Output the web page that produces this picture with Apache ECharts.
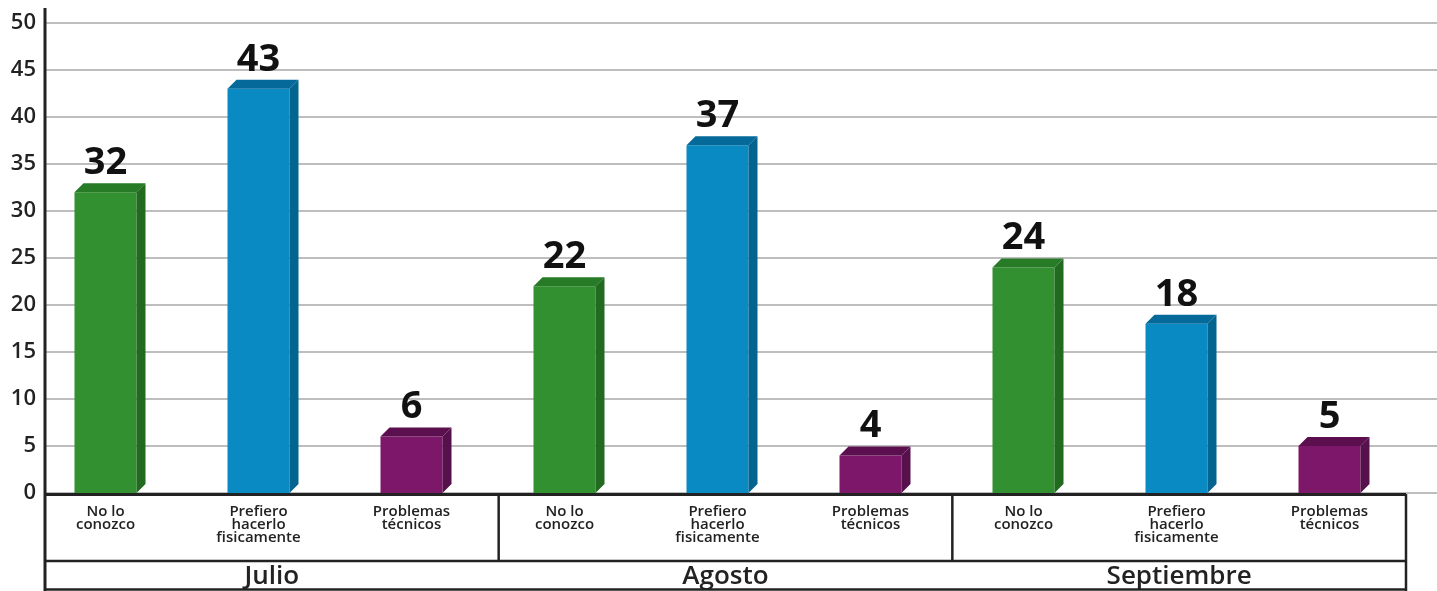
<!DOCTYPE html>
<html><head><meta charset="utf-8">
<script src="https://cdn.jsdelivr.net/npm/echarts@6/dist/echarts.min.js"></script>
<style>html,body{margin:0;padding:0;background:#fff}#c{width:1437px;height:591px}</style>
</head><body><div id="c"></div>
<script>
const groups = ['Julio', 'Agosto', 'Septiembre'];
const reasons = ['No lo\nconozco', 'Prefiero\nhacerlo\nfisicamente', 'Problemas\ntécnicos'];
const categories = [
  'No lo\nconozco', 'Prefiero\nhacerlo\nfisicamente', 'Problemas\ntécnicos',
  'No lo\nconozco', 'Prefiero\nhacerlo\nfisicamente', 'Problemas\ntécnicos',
  'No lo\nconozco', 'Prefiero\nhacerlo\nfisicamente', 'Problemas\ntécnicos'
];
const values = [32, 43, 6, 22, 37, 4, 24, 18, 5];
const yMin = 0, yMax = 50, yStep = 5;

const palette = [
  { front: '#329030', top: '#277a26', side: '#216a20' },
  { front: '#0a8ac3', top: '#05699a', side: '#046490' },
  { front: '#7c1769', top: '#5c0f4f', side: '#56104b' }
];
const FONT = '"Open Sans", "Noto Sans", sans-serif';
const L = 45, R = 1406, W = 1437, H = 591, Y0 = 493, YTOP = 23, BL = 29;

function renderItem(params, api) {
  const idx = api.value(0), v = api.value(1), k = api.value(2);
  const top = api.coord([idx, v]);
  const bot = api.coord([idx, 0]);
  const w = 62, d = 9;
  const x0 = top[0] - w / 2, x1 = top[0] + w / 2, yT = top[1], yB = bot[1];
  const c = palette[k];
  return {
    type: 'group',
    children: [
      { type: 'rect', shape: { x: x0, y: yT, width: w, height: yB - yT }, style: { fill: c.front } },
      { type: 'polygon', shape: { points: [[x0, yT], [x0 + d, yT - d], [x1 + d, yT - d], [x1, yT]] }, style: { fill: c.top } },
      { type: 'polygon', shape: { points: [[x1, yT], [x1 + d, yT - d], [x1 + d, yB - d], [x1, yB]] }, style: { fill: c.side } },
      { type: 'text', x: top[0], y: yT - d - 1,
        style: { text: String(v), align: 'center', verticalAlign: 'bottom', fontSize: 38, fontWeight: 700, fontFamily: FONT, fill: '#111' } }
    ]
  };
}

const chart = echarts.init(document.getElementById('c'));
const gw = (R - L) / groups.length;
const lineStyle = { stroke: '#222', lineWidth: 3 };
const graphics = [
  { type: 'line', shape: { x1: L, y1: 8, x2: L, y2: H }, style: lineStyle },
  { type: 'line', shape: { x1: L, y1: 494.5, x2: R, y2: 494.5 }, style: lineStyle },
  { type: 'line', shape: { x1: L, y1: 561, x2: R, y2: 561 }, style: { stroke: '#222', lineWidth: 2.5 } },
  { type: 'line', shape: { x1: L, y1: 589.5, x2: R, y2: 589.5 }, style: { stroke: '#222', lineWidth: 2.5 } },
  { type: 'line', shape: { x1: R, y1: 494, x2: R, y2: H }, style: { stroke: '#222', lineWidth: 2.5 } }
];
for (let g = 1; g < groups.length; g++) {
  const x = L + gw * g;
  graphics.push({ type: 'line', shape: { x1: x, y1: 494, x2: x, y2: 561 }, style: { stroke: '#222', lineWidth: 2.5 } });
}

chart.setOption({
  animation: false,
  backgroundColor: '#fff',
  grid: [
    { left: L, right: 0, top: YTOP, bottom: H - Y0 },
    { left: L, right: W - R, top: YTOP, bottom: H - Y0 },
    { left: BL, right: W - R, top: YTOP, bottom: H - Y0 }
  ],
  xAxis: [
    { type: 'value', gridIndex: 0, show: false, min: 0, max: 1 },
    { type: 'category', gridIndex: 1, data: groups, position: 'bottom',
      axisLine: { show: false }, axisTick: { show: false },
      axisLabel: { interval: 0, margin: 71, fontSize: 26, fontWeight: 600, color: '#222', fontFamily: FONT } },
    { type: 'category', gridIndex: 2, data: categories,
      axisLine: { show: false }, axisTick: { show: false },
      axisLabel: { interval: 0, margin: 12, fontSize: 15, fontWeight: 600, lineHeight: 13, color: '#222', fontFamily: FONT } }
  ],
  yAxis: [
    { type: 'value', gridIndex: 0, min: yMin, max: yMax, interval: yStep,
      axisLine: { show: false }, axisTick: { show: false },
      splitLine: { lineStyle: { color: '#a8a8a8', width: 1.5 } },
      axisLabel: { margin: 9, fontSize: 22, fontWeight: 600, color: '#222', fontFamily: FONT } },
    { type: 'value', gridIndex: 1, min: yMin, max: yMax, interval: yStep, show: false },
    { type: 'value', gridIndex: 2, min: yMin, max: yMax, interval: yStep, show: false }
  ],
  series: [
    { type: 'custom', xAxisIndex: 2, yAxisIndex: 2, renderItem: renderItem, clip: false,
      data: values.map((v, i) => [i, v, i % reasons.length]) }
  ],
  graphic: { elements: graphics.map(e => Object.assign({ z: 100, silent: true }, e)) }
});
</script>
</body></html>
